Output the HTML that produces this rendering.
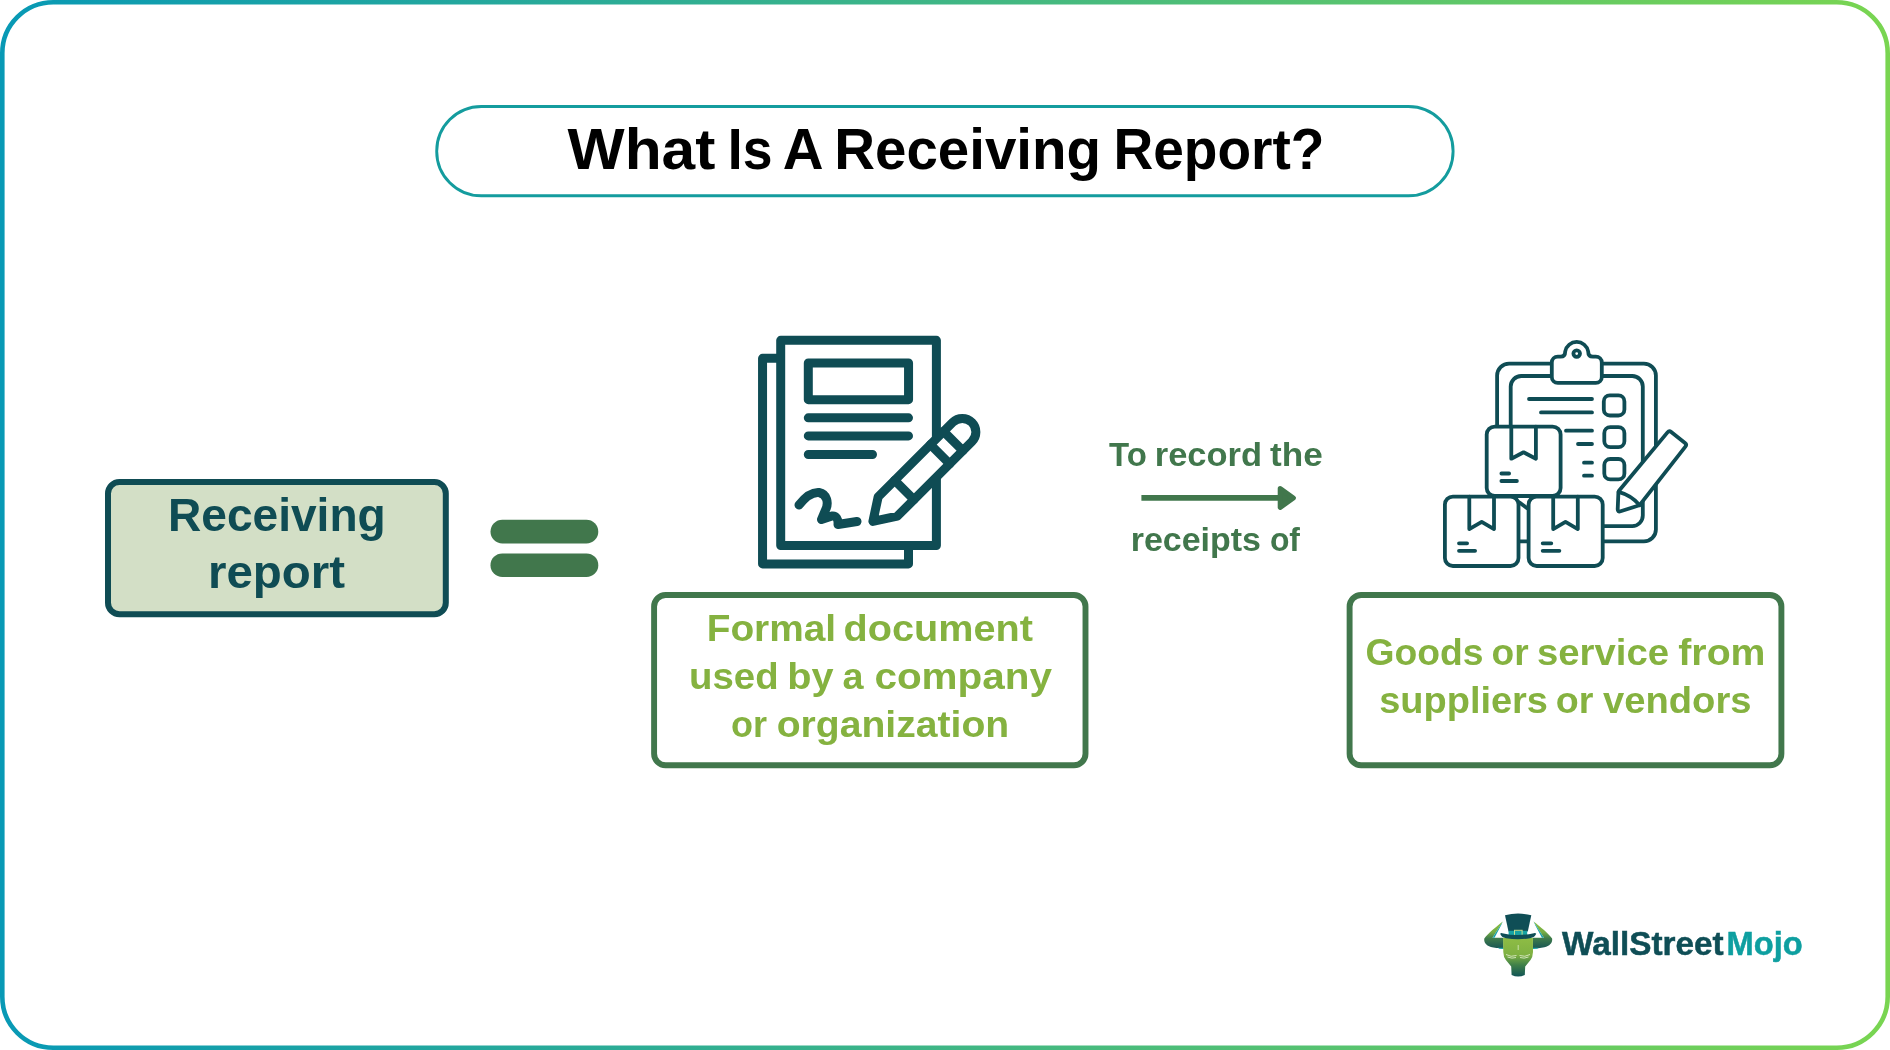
<!DOCTYPE html>
<html>
<head>
<meta charset="utf-8">
<style>
html,body{margin:0;padding:0;background:#fff;}
body{width:1890px;height:1050px;overflow:hidden;position:relative;}
svg{position:absolute;left:0;top:0;display:block;will-change:transform;}
text{font-family:"Liberation Sans", sans-serif;font-weight:bold;}
</style>
</head>
<body>
<svg width="1890" height="1050" viewBox="0 0 1890 1050">
<defs>
<linearGradient id="bord" x1="0" y1="0" x2="1890" y2="0" gradientUnits="userSpaceOnUse">
<stop offset="0" stop-color="#0899b5"/>
<stop offset="0.5" stop-color="#3fb685"/>
<stop offset="1" stop-color="#79d551"/>
</linearGradient>
</defs>
<rect x="2.3" y="2.3" width="1885.4" height="1045.4" rx="51" ry="51" fill="#fff" stroke="url(#bord)" stroke-width="4.6"/>

<!-- title pill -->
<rect x="436.7" y="106.5" width="1016.4" height="89.3" rx="44.65" ry="44.65" fill="none" stroke="#149c9e" stroke-width="2.9"/>
<text id="tw1" x="567.60" y="168.9" font-size="58" fill="#000" textLength="147.80" lengthAdjust="spacingAndGlyphs">What</text>
<text id="tw2" x="727.80" y="168.9" font-size="58" fill="#000" textLength="44.60" lengthAdjust="spacingAndGlyphs">Is</text>
<text id="tw3" x="782.80" y="168.9" font-size="58" fill="#000" textLength="40.80" lengthAdjust="spacingAndGlyphs">A</text>
<text id="tw4" x="834.20" y="168.9" font-size="58" fill="#000" textLength="266.80" lengthAdjust="spacingAndGlyphs">Receiving</text>
<text id="tw5" x="1113.40" y="168.9" font-size="58" fill="#000" textLength="211.00" lengthAdjust="spacingAndGlyphs">Report?</text>

<!-- receiving report box -->
<rect x="108" y="482" width="337.8" height="132.2" rx="11.5" ry="11.5" fill="#d3dfc6" stroke="#0f4c54" stroke-width="6"/>
<text id="t-rr1" x="168" y="530.9" font-size="46" fill="#0f4c54" textLength="217.7" lengthAdjust="spacingAndGlyphs">Receiving</text>
<text id="t-rr2" x="208" y="588" font-size="46" fill="#0f4c54" textLength="137" lengthAdjust="spacingAndGlyphs">report</text>

<!-- equals -->
<rect x="490.5" y="519.8" width="107.8" height="23.8" rx="11.9" fill="#41774c"/>
<rect x="490.5" y="553.4" width="107.8" height="23.6" rx="11.8" fill="#41774c"/>

<!-- document icon -->
<g fill="#fff" stroke="#0f4c54" stroke-width="9" stroke-linejoin="round" stroke-linecap="round">
<rect x="762.55" y="358.35" width="145.95" height="205.55"/>
<rect x="780.7" y="340.35" width="155.7" height="205.25"/>
<rect x="808.3" y="363" width="100.25" height="36.65" fill="none"/>
<path d="M808.3 417.85H908.5M808.3 435.9H908.5M808.3 454.5H872.5" fill="none"/>
<path d="M799,505 C806,496 813,492 819,492.5 C827,494 829,503 825.5,510 L821.5,519.5 L832,516 C836,515.5 838.5,519 838,524.5 L857,521.5" fill="none"/>
<g transform="translate(872.9,521.4) rotate(-45)">
<path d="M0,0 L21,-13.6 L126.4,-13.6 A13.6,13.6 0 0 1 126.4,13.6 L21,13.6 Z"/>
<path d="M44.4,-13.6V13.6M95,-13.6V13.6M113.6,-13.6V13.6" fill="none"/>
</g>
</g>

<!-- arrow -->
<text id="t-ar1-0" x="1109.10" y="466" font-size="33.2" fill="#41774c" textLength="37.80" lengthAdjust="spacingAndGlyphs">To</text>
<text id="t-ar1-1" x="1154.80" y="466" font-size="33.2" fill="#41774c" textLength="107.20" lengthAdjust="spacingAndGlyphs">record</text>
<text id="t-ar1-2" x="1270.10" y="466" font-size="33.2" fill="#41774c" textLength="52.70" lengthAdjust="spacingAndGlyphs">the</text>
<path d="M1141.4 497.9H1282" stroke="#41774c" stroke-width="5.7" fill="none"/>
<path d="M1280.2 488.6 L1293.4 498 L1280.2 507.4 Z" fill="#41774c" stroke="#41774c" stroke-width="5" stroke-linejoin="round"/>
<text id="t-ar2-0" x="1130.70" y="550.7" font-size="33.2" fill="#41774c" textLength="130.30" lengthAdjust="spacingAndGlyphs">receipts</text>
<text id="t-ar2-1" x="1269.90" y="550.7" font-size="33.2" fill="#41774c" textLength="30.10" lengthAdjust="spacingAndGlyphs">of</text>

<!-- clipboard icon -->
<g fill="#fff" stroke="#0f4c54" stroke-width="3.8" stroke-linejoin="round" stroke-linecap="round">
<rect x="1497.1" y="363.6" width="158.8" height="177.8" rx="12"/>
<path d="M1510.7,440 V386.5 A10.5,10.5 0 0 1 1521.2,376 H1632.3 A10.5,10.5 0 0 1 1642.8,386.5 V515.6 A10.5,10.5 0 0 1 1632.3,526.1 H1590" fill="none"/>
<path d="M1557.8,356.7 H1560.5 Q1565.2,356.7 1565.2,351.5 A11.7,11.7 0 0 1 1588.2,351.5 Q1588.2,356.7 1592.9,356.7 H1595.8 A6,6 0 0 1 1601.8,362.7 V376.9 A6,6 0 0 1 1595.8,382.9 H1557.8 A6,6 0 0 1 1551.8,376.9 V362.7 A6,6 0 0 1 1557.8,356.7 Z"/>
<circle cx="1576.7" cy="353.6" r="3.3" fill="none"/>
<path d="M1529 399H1592M1541 412.4H1592M1566 430.7H1592M1578 444H1592M1584 462.7H1592M1584 475.7H1592" fill="none"/>
<rect x="1603.8" y="395.4" width="20.6" height="20.1" rx="6" fill="none"/>
<rect x="1604.3" y="427.2" width="20.1" height="20" rx="6" fill="none"/>
<rect x="1604.3" y="459" width="20.1" height="20.4" rx="6" fill="none"/>
<path d="M1617.7,509.1 L1618.4,492.6 Q1618.4,491.6 1619.0,490.8 L1667.5,432.4 Q1669.2,430.4 1671.2,432.0 L1685.0,443.0 Q1687.0,444.6 1685.4,446.6 L1640.2,504.4 Q1639.6,505.2 1638.6,505.5 L1620.6,511.3 Q1617.6,512.3 1617.7,509.1 Z"/>
<path d="M1618.6,491.8 Q1632,495.5 1639.6,505.2" fill="none"/>
<!-- boxes -->
<rect x="1486.7" y="426.6" width="73.9" height="69.4" rx="8"/>
<path d="M1511.3,426.6 V458.7 L1523.6,452.3 L1535.9,458.7 V426.6 M1501.4,473.5 H1509.1 M1501.4,481 H1516.9" fill="none"/>
<path d="M1519.5,502.5 L1527.5,508.5" fill="none"/>
<rect x="1444.9" y="496.6" width="73.6" height="69.4" rx="8"/>
<path d="M1469.3,496.6 V529.1 L1481.7,521.8 L1494,529.1 V496.6 M1459,543.3 H1467.1 M1459,550.8 H1475.1" fill="none"/>
<rect x="1528.6" y="496.6" width="74.1" height="69.4" rx="8"/>
<path d="M1553.2,496.6 V529.1 L1565.5,521.8 L1577.8,529.1 V496.6 M1542.7,543.3 H1551.3 M1542.7,550.8 H1559.4" fill="none"/>
</g>

<!-- bottom boxes -->
<rect x="654.1" y="595" width="431.4" height="170.2" rx="11.5" fill="#fff" stroke="#41774c" stroke-width="5.9"/>
<text id="t-b1-0" x="706.70" y="641.1" font-size="37.5" fill="#85b240" textLength="129.40" lengthAdjust="spacingAndGlyphs">Formal</text>
<text id="t-b1-1" x="843.60" y="641.1" font-size="37.5" fill="#85b240" textLength="189.40" lengthAdjust="spacingAndGlyphs">document</text>
<text id="t-b2-0" x="689.00" y="689.1" font-size="37.5" fill="#85b240" textLength="89.60" lengthAdjust="spacingAndGlyphs">used</text>
<text id="t-b2-1" x="787.30" y="689.1" font-size="37.5" fill="#85b240" textLength="46.30" lengthAdjust="spacingAndGlyphs">by</text>
<text id="t-b2-2" x="842.40" y="689.1" font-size="37.5" fill="#85b240" textLength="21.00" lengthAdjust="spacingAndGlyphs">a</text>
<text id="t-b2-3" x="874.40" y="689.1" font-size="37.5" fill="#85b240" textLength="177.60" lengthAdjust="spacingAndGlyphs">company</text>
<text id="t-b3-0" x="731.00" y="737.1" font-size="37.5" fill="#85b240" textLength="36.00" lengthAdjust="spacingAndGlyphs">or</text>
<text id="t-b3-1" x="776.70" y="737.1" font-size="37.5" fill="#85b240" textLength="232.50" lengthAdjust="spacingAndGlyphs">organization</text>

<rect x="1349.6" y="595" width="431.8" height="170.3" rx="11.5" fill="#fff" stroke="#41774c" stroke-width="5.9"/>
<text id="t-c1-0" x="1365.50" y="665.2" font-size="37.5" fill="#85b240" textLength="118.00" lengthAdjust="spacingAndGlyphs">Goods</text>
<text id="t-c1-1" x="1491.60" y="665.2" font-size="37.5" fill="#85b240" textLength="37.10" lengthAdjust="spacingAndGlyphs">or</text>
<text id="t-c1-2" x="1537.00" y="665.2" font-size="37.5" fill="#85b240" textLength="132.00" lengthAdjust="spacingAndGlyphs">service</text>
<text id="t-c1-3" x="1678.30" y="665.2" font-size="37.5" fill="#85b240" textLength="87.20" lengthAdjust="spacingAndGlyphs">from</text>
<text id="t-c2-0" x="1379.20" y="713.1" font-size="37.5" fill="#85b240" textLength="168.80" lengthAdjust="spacingAndGlyphs">suppliers</text>
<text id="t-c2-1" x="1555.80" y="713.1" font-size="37.5" fill="#85b240" textLength="37.60" lengthAdjust="spacingAndGlyphs">or</text>
<text id="t-c2-2" x="1603.00" y="713.1" font-size="37.5" fill="#85b240" textLength="148.50" lengthAdjust="spacingAndGlyphs">vendors</text>

<!-- logo -->
<g id="logo">
<defs>
<linearGradient id="face" x1="0" y1="937" x2="0" y2="977" gradientUnits="userSpaceOnUse">
<stop offset="0" stop-color="#8fbd45"/>
<stop offset="0.45" stop-color="#7fb142"/>
<stop offset="0.7" stop-color="#3f8049"/>
<stop offset="1" stop-color="#0f5256"/>
</linearGradient>
<linearGradient id="horn" x1="0" y1="921" x2="0" y2="949" gradientUnits="userSpaceOnUse">
<stop offset="0" stop-color="#8cc040"/>
<stop offset="0.4" stop-color="#76ad44"/>
<stop offset="0.62" stop-color="#3e7b4b"/>
<stop offset="1" stop-color="#175455"/>
</linearGradient>
</defs>
<path d="M1502.8,921.4 C1496,927 1488,933 1484.3,938.5 C1483.5,943 1487,946 1492,947.3 C1496,948.2 1500,948.4 1503.5,948.4 L1503.5,937.8 L1492.5,937.8 Z" fill="url(#horn)"/>
<path d="M1533.6,921.4 C1540.4,927 1548.4,933 1552.1,938.5 C1552.9,943 1549.4,946 1544.4,947.3 C1540.4,948.2 1536.4,948.4 1532.9,948.4 L1532.9,937.8 L1543.9,937.8 Z" fill="url(#horn)"/>
<path d="M1492.5,937.8 L1502.8,921.4 L1501,925.5 L1494.5,937.8 Z" fill="#17a0a8"/>
<path d="M1543.9,937.8 L1533.6,921.4 L1535.4,925.5 L1541.9,937.8 Z" fill="#17a0a8"/>
<path d="M1498,947.8 L1503.5,947.8 L1503.5,949 L1499,948.8 Z" fill="#17a3a8"/>
<path d="M1538.4,947.8 L1532.9,947.8 L1532.9,949 L1537.4,948.8 Z" fill="#17a3a8"/>
<path d="M1503.1,937.8 L1532.9,937.8 L1533,952 Q1532.8,957 1530.5,960 L1525.2,966.5 L1524.8,975 Q1518,978 1511.6,975 L1511.2,966.5 L1505.9,960 Q1503.4,957 1503.3,952 Z" fill="url(#face)"/>
<path d="M1506,954.5 Q1511,957.5 1516.5,955.5 M1530,954.5 Q1525,957.5 1519.5,955.5 M1507.5,957 Q1512,959 1516,957.5 M1528.5,957 Q1524,959 1520,957.5" stroke="#e8f3d6" stroke-width="0.8" fill="none"/>
<path d="M1518.2,945 V950" stroke="#e8f3d6" stroke-width="0.7"/>
<path d="M1505,915.2 Q1518,912 1531.3,915.2 L1527.8,931.5 L1508.5,931.5 Z" fill="#0f4e56"/>
<rect x="1508.6" y="930.8" width="18.6" height="4.5" fill="#17a3a3"/>
<rect x="1514.5" y="930.3" width="7.6" height="5.4" fill="none" stroke="#c6df8f" stroke-width="1"/>
<path d="M1500.2,933.8 Q1501,932.6 1502.2,933.2 Q1518,937 1533.8,933.2 Q1535.4,932.6 1536.2,933.8 Q1535,937.3 1530,938.3 Q1518,940.3 1506,938.3 Q1501.2,937.3 1500.2,933.8 Z" fill="#0f4e56"/>
<text id="t-logo" x="1562.00" y="954.7" font-size="33.7" fill="#0f4e56" stroke="#0f4e56" stroke-width="0.5" textLength="161.60" lengthAdjust="spacingAndGlyphs">WallStreet</text>
<text id="t-logo2" x="1726.50" y="954.7" font-size="33.7" fill="#0e9fa0" stroke="#0e9fa0" stroke-width="0.5" textLength="76.20" lengthAdjust="spacingAndGlyphs">Mojo</text>
</g>
</svg>
</body>
</html>
